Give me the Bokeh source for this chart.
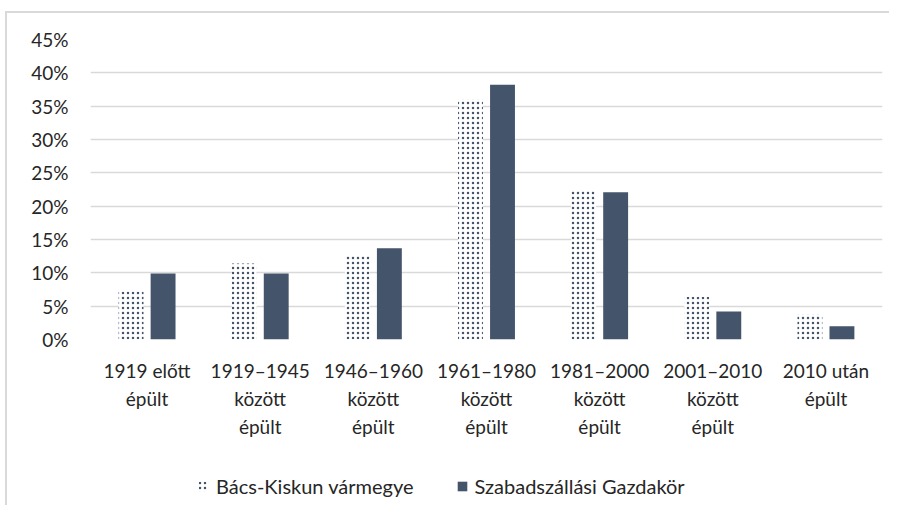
from bokeh.plotting import figure
from bokeh.layouts import column
from bokeh.models import FactorRange, Range1d, FixedTicker, PrintfTickFormatter, Legend, LegendItem, ColumnDataSource
from bokeh.transform import dodge
from bokeh.embed import file_html
from bokeh.resources import INLINE

categories = ["1919 előtt\népült", "1919–1945\nközött\népült", "1946–1960\nközött\népült",
              "1961–1980\nközött\népült", "1981–2000\nközött\népült", "2001–2010\nközött\népült",
              "2010 után\népült"]
bacs_kiskun = [7.2, 11.4, 12.6, 36.0, 22.3, 6.4, 3.8]
szabadszallas = [9.9, 9.9, 13.7, 38.2, 22.1, 4.2, 2.0]
series_names = ["Bács-Kiskun vármegye", "Szabadszállási Gazdakör"]
y_ticks = [0, 5, 10, 15, 20, 25, 30, 35, 40, 45]

FONT = "Lato"
TEXT = "#262626"
DARK = "#44546A"
GRID = "#d9d9d9"

src = ColumnDataSource(dict(cat=categories, a=bacs_kiskun, b=szabadszallas))

dotted = dict(fill_color="white", line_color=None,
              hatch_pattern="dot", hatch_color=DARK, hatch_scale=5, hatch_weight=1.0)
solid = dict(fill_color=DARK, line_color=None)

p = figure(x_range=FactorRange(*categories, range_padding=0), y_range=Range1d(0, 45),
           width=889, height=465, output_backend="svg", toolbar_location=None,
           min_border_left=90, min_border_right=7, min_border_top=39, min_border_bottom=126)
p.outline_line_color = None
p.background_fill_color = "white"
p.border_fill_color = None

p.vbar(x=dodge("cat", -0.1415, range=p.x_range), top="a", width=0.22, source=src, **dotted)
p.vbar(x=dodge("cat", 0.1415, range=p.x_range), top="b", width=0.22, source=src, **solid)

p.xgrid.grid_line_color = None
p.ygrid.grid_line_color = GRID
p.ygrid.grid_line_width = 1.5
p.yaxis.ticker = FixedTicker(ticks=y_ticks)
p.yaxis.formatter = PrintfTickFormatter(format="%d%%")

for ax in (p.xaxis[0], p.yaxis[0]):
    ax.axis_line_color = None
    ax.major_tick_line_color = None
    ax.minor_tick_line_color = None
    ax.major_tick_out = 0
    ax.major_tick_in = 0
    ax.major_label_text_font = FONT
    ax.major_label_text_font_size = "19px"
    ax.major_label_text_color = TEXT

p.yaxis.major_label_standoff = 22
p.xaxis.major_label_standoff = 19
p.xaxis.major_label_text_line_height = 1.23
p.xaxis.group_text_font_size = "0px"

# legend strip below the chart (same series as hidden renderers, only the legend shows)
lp = figure(width=889, height=40, output_backend="svg", toolbar_location=None,
            min_border=0, x_range=FactorRange(*categories, range_padding=0), y_range=Range1d(0, 45))
lp.axis.visible = False
lp.grid.visible = False
lp.outline_line_color = None
lp.background_fill_color = None
lp.border_fill_color = None
l1 = lp.vbar(x=dodge("cat", -0.1415, range=lp.x_range), top="a", width=0.22, source=src, **dotted)
l2 = lp.vbar(x=dodge("cat", 0.1415, range=lp.x_range), top="b", width=0.22, source=src, **solid)
l1.visible = False
l2.visible = False

legend = Legend(items=[LegendItem(label=series_names[0], renderers=[l1]),
                       LegendItem(label=series_names[1], renderers=[l2])],
                orientation="horizontal", location=(107, 7),
                label_text_font=FONT, label_text_font_size="20px", label_text_color=TEXT,
                glyph_width=12, glyph_height=12, label_standoff=7, spacing=42,
                inactive_fill_alpha=0,
                border_line_color=None, background_fill_alpha=0, padding=4, margin=0)
lp.add_layout(legend, "center")

layout = column(p, lp, spacing=0,
                styles={"background-image": "linear-gradient(#d9d9d9,#d9d9d9), linear-gradient(#d9d9d9,#d9d9d9)",
                        "background-size": "2px 100%, 100% 2px",
                        "background-position": "5px 11px, 5px 11px",
                        "background-repeat": "no-repeat",
                        "background-color": "white"})

open("out.html", "w").write(file_html(layout, INLINE))
